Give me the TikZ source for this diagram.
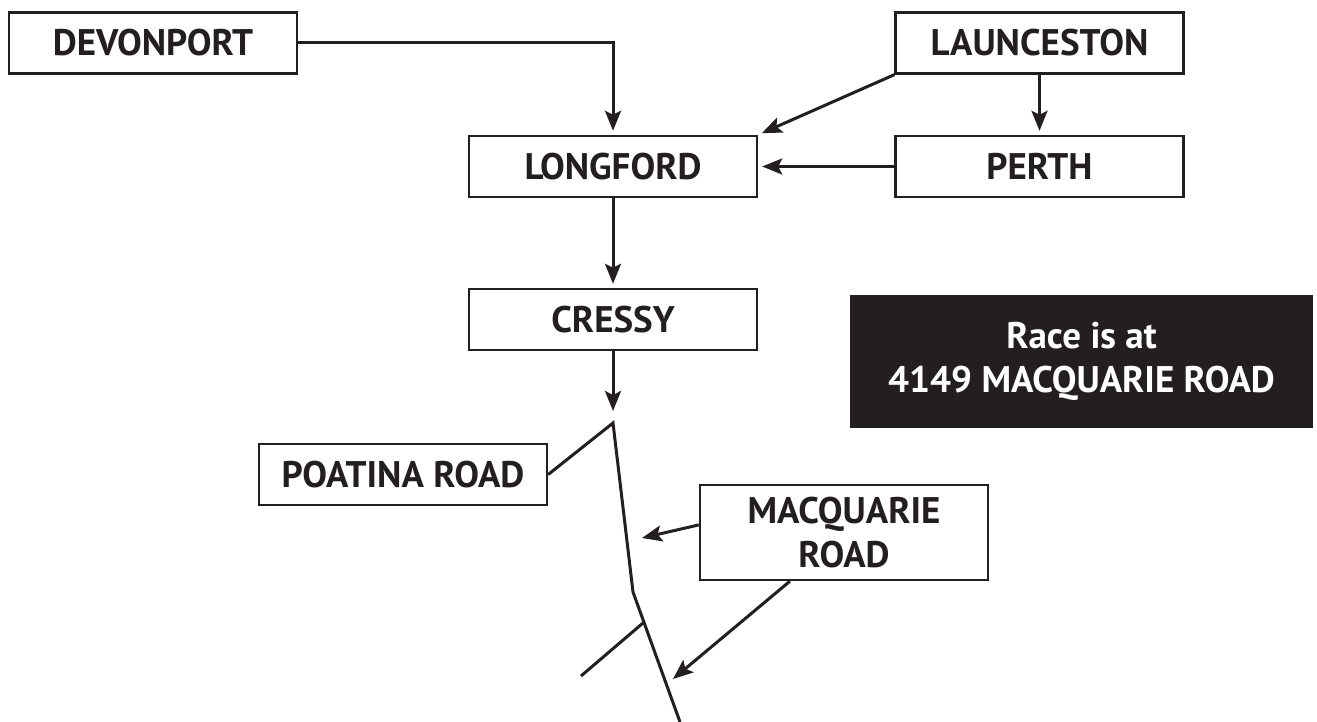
\documentclass[tikz,border=0pt]{standalone}
\usepackage{fontspec}
\setmainfont{PT Sans}
\usetikzlibrary{arrows.meta}
\definecolor{ink}{HTML}{231F20}

\begin{document}
\begin{tikzpicture}[x=0.5pt,y=-0.5pt,
  town/.style={draw=ink,line width=1.2pt,minimum width=144pt,minimum height=30.5pt,
    font=\bfseries\fontsize{18.5}{22}\selectfont,text=ink,align=center,inner sep=0pt},
  road/.style={draw=ink,line width=1.5pt},
  go/.style={road,-{Stealth[length=10pt,width=8pt,inset=2pt]},shorten >=2pt}]
\useasboundingbox (0,0) rectangle (1317,722);
% towns
\node[town] (devon) at (153,43) {DEVONPORT};
\node[town] (laun) at (1039.5,43) {LAUNCESTON};
\node[town] (long) at (613,166.5) {LONGFORD};
\node[town] (perth) at (1039.5,166.5) {PERTH};
\node[town] (cressy) at (613,319.5) {CRESSY};
\node[town] (poa) at (403,474.5) {POATINA ROAD};
\node[town,minimum height=47.5pt] (mac) at (844,532.5) {MACQUARIE\\ROAD};
\node[fill=ink,minimum width=231.5pt,minimum height=66.5pt,text=white,align=center,
  font=\bfseries\fontsize{18.5}{22}\selectfont] (race) at (1081.5,361.5)
  {Race is at\\4149 MACQUARIE ROAD};
% road points
\coordinate (rtop) at (613,423);
\coordinate (rbend) at (633,592);
\coordinate (rend) at (680,722);
\coordinate (sidea) at (581,676);
\coordinate (sideb) at (643,623);
\coordinate (mtipa) at (642,538);
\coordinate (mtipb) at (673,679);
% connectors
\draw[go] (devon.east) -| (long.north);
\draw[go] (laun.south west) -- (long.north east);
\draw[go] (laun.south) -- (perth.north);
\draw[go] (perth.west) -- (long.east);
\draw[go] (long.south) -- (cressy.north);
\draw[go,shorten >=6pt] (cressy.south) -- (rtop);
\draw[road] (poa.east) -- (rtop) -- (rbend) -- (rend);
\draw[road] (sidea) -- (sideb);
\draw[go,shorten >=0pt] (mac.177) -- (mtipa);
\draw[go,shorten >=0pt] (mac.222) -- (mtipb);
\end{tikzpicture}
\end{document}
